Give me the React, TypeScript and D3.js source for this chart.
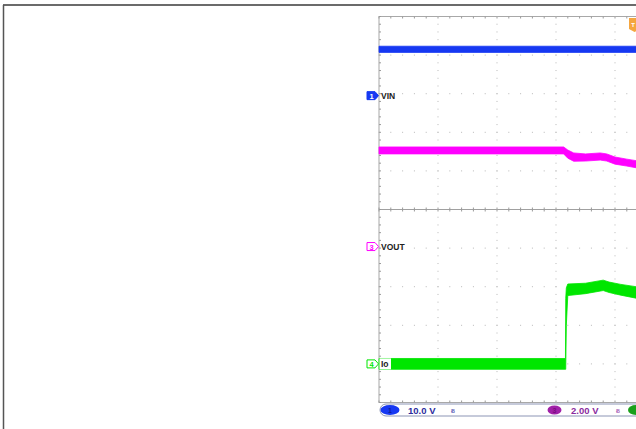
import React from "react";
import * as d3 from "d3";

// ---- data (time in divisions, values in channel units) ----
const vinTime = [0, 1, 2, 3, 4, 4.6];
const vinHigh = [12.8, 12.8, 12.8, 12.8, 12.8, 12.8];
const vinLow = [11.2, 11.2, 11.2, 11.2, 11.2, 11.2];

const voutTime = [0, 1, 2, 3, 3.13, 3.2, 3.3, 3.5, 3.75, 3.86, 4.0, 4.2, 4.4];
const voutHigh = [5.16, 5.16, 5.16, 5.16, 5.16, 5.0, 4.85, 4.8, 4.85, 4.8, 4.64, 4.53, 4.43];
const voutLow = [4.8, 4.8, 4.8, 4.8, 4.8, 4.58, 4.42, 4.43, 4.48, 4.43, 4.27, 4.17, 4.06];

const ioTime = [0, 1, 2, 3, 3.16, 3.165, 3.175, 3.2, 3.5, 3.8, 3.9, 4.1, 4.4];
const ioHigh = [0.14, 0.14, 0.14, 0.14, 0.14, 1.7, 1.97, 2.07, 2.09, 2.17, 2.12, 2.06, 1.99];
const ioLow = [-0.14, -0.14, -0.14, -0.14, -0.14, -0.14, 1.0, 1.77, 1.82, 1.9, 1.85, 1.78, 1.69];

const channelNames = ["VIN", "VOUT", "Io"];
const channelNumbers = ["1", "3", "4"];
const channelOffsets = [2.95, -0.96, -4.0]; // divisions
const channelScales = [10, 2, 1]; // units per division
const channelColors = ["#1638f2", "#ff00ff", "#00e600"];
const scaleLabels = ["10.0 V", "2.00 V"];

const W = 636;
const H = 429;

export default function App() {
  const x = d3.scaleLinear().domain([0, 10]).range([379, 969]);
  const y = d3.scaleLinear().domain([-5, 5]).range([402.5, 16.5]);

  const series = [
    { t: vinTime, hi: vinHigh, lo: vinLow },
    { t: voutTime, hi: voutHigh, lo: voutLow },
    { t: ioTime, hi: ioHigh, lo: ioLow },
  ];

  const areas = series.map((s, ci) => {
    const pts = s.t.map((t, i) => ({ t, hi: s.hi[i], lo: s.lo[i] }));
    const area = d3
      .area<any>()
      .x((d) => x(d.t))
      .y0((d) => y(channelOffsets[ci] + d.lo / channelScales[ci]))
      .y1((d) => y(channelOffsets[ci] + d.hi / channelScales[ci]));
    return area(pts) || "";
  });

  // grid dots
  const dots: JSX.Element[] = [];
  const gridColor = "#b8b8b8";
  for (let gx = 1; gx <= 9; gx++) {
    if (gx === 5) continue;
    for (let k = 0; k <= 50; k++) {
      const yy = y(-5 + k * 0.2);
      dots.push(<rect key={`v${gx}-${k}`} x={x(gx) - 0.5} y={yy - 0.5} width={1} height={1} fill={gridColor} />);
    }
  }
  for (let gy = -4; gy <= 4; gy++) {
    if (gy === 0) continue;
    for (let k = 0; k <= 50; k++) {
      const xx = x(k * 0.2);
      dots.push(<rect key={`h${gy}-${k}`} x={xx - 0.5} y={y(gy) - 0.5} width={1} height={1} fill={gridColor} />);
    }
  }
  // ticks on center line & borders
  const ticks: JSX.Element[] = [];
  for (let k = 0; k <= 50; k++) {
    const xx = x(k * 0.2);
    ticks.push(<line key={`c${k}`} x1={xx} x2={xx} y1={y(0) - 2} y2={y(0) + 2} stroke="#9a9a9a" strokeWidth={1} />);
    ticks.push(<line key={`t${k}`} x1={xx} x2={xx} y1={y(5)} y2={y(5) + 2} stroke="#9a9a9a" strokeWidth={1} />);
    ticks.push(<line key={`b${k}`} x1={xx} x2={xx} y1={y(-5)} y2={y(-5) - 2} stroke="#9a9a9a" strokeWidth={1} />);
  }
  for (let k = 0; k <= 50; k++) {
    const yy = y(-5 + k * 0.2);
    ticks.push(<line key={`l${k}`} x1={x(0)} x2={x(0) + 2} y1={yy} y2={yy} stroke="#9a9a9a" strokeWidth={1} />);
  }

  const markerPath = (cy: number) =>
    `M367,${cy - 4} L375,${cy - 4} L378.5,${cy} L375,${cy + 4} L367,${cy + 4} Z`;

  const font = "Liberation Sans, Arial, sans-serif";

  return (
    <svg width={W} height={H} style={{ position: "absolute", left: 0, top: 0, display: "block" }}>
      <rect x={0} y={0} width={W} height={H} fill="#ffffff" />
      {/* outer frame */}
      <line x1={3} x2={W} y1={5} y2={5} stroke="#3a3a3a" strokeWidth={1.5} />
      <line x1={3.5} x2={3.5} y1={5} y2={H} stroke="#555" strokeWidth={1.5} />

      {/* graticule */}
      <rect x={x(0)} y={y(5)} width={x(10) - x(0)} height={y(-5) - y(5)} fill="none" stroke="#a8a8a8" strokeWidth={1} />
      <line x1={x(0)} x2={x(10)} y1={y(0)} y2={y(0)} stroke="#a0a0a0" strokeWidth={1} />
      {dots}
      {ticks}

      {/* traces */}
      {areas.map((d, i) => (
        <path key={i} d={d} fill={channelColors[i]} stroke={channelColors[i]} strokeWidth={0.8} />
      ))}

      {/* channel markers & labels */}
      {channelNames.map((name, i) => {
        const cy = y(channelOffsets[i]);
        const filled = i === 0;
        return (
          <g key={name}>
            {i === 2 && <rect x={379.5} y={cy - 5.5} width={11.5} height={11} fill="#fff" />}
            <path d={markerPath(cy)} fill={filled ? channelColors[i] : "#fff"} stroke={channelColors[i]} strokeWidth={1} />
            <text x={371.5} y={cy + 3} fontSize={7.5} fontFamily={font} fontWeight="bold" textAnchor="middle" fill={filled ? "#fff" : channelColors[i]}>
              {channelNumbers[i]}
            </text>
            <text x={381} y={cy + 3.2} fontSize={8.5} fontFamily={font} fontWeight="bold" fill="#222">
              {name}
            </text>
          </g>
        );
      })}

      {/* trigger marker */}
      <path d="M629,18 L640,18 L640,29 L634.5,32 L629,29 Z" fill="#f5a640" />
      <text x={633} y={27} fontSize={6} fontFamily={font} fontWeight="bold" textAnchor="middle" fill="#fff">T</text>

      {/* status bar */}
      <rect x={380} y={404} width={300} height={12} rx={6} fill="#fff" stroke="#8c95b5" strokeWidth={1} />
      <ellipse cx={390} cy={410} rx={9.5} ry={5} fill="#1638f2" />
      <text x={390} y={413} fontSize={7} fontFamily={font} fontWeight="bold" textAnchor="middle" fill="#0d1f9a">1</text>
      <text x={408} y={413.5} fontSize={9.5} fontFamily={font} fontWeight="bold" fill="#2b2b9e">{scaleLabels[0]}</text>
      <text x={451} y={413} fontSize={6} fontFamily={font} fill="#4a4ab0">Ƀ</text>
      <ellipse cx={554.5} cy={410} rx={7} ry={4.5} fill="#a020a8" />
      <text x={554.5} y={413} fontSize={7} fontFamily={font} fontWeight="bold" textAnchor="middle" fill="#7a0a80">3</text>
      <text x={571} y={413.5} fontSize={9.5} fontFamily={font} fontWeight="bold" fill="#8a2a9e">{scaleLabels[1]}</text>
      <text x={616} y={413} fontSize={6} fontFamily={font} fill="#9a4ab0">Ƀ</text>
      <ellipse cx={636} cy={410} rx={8} ry={5} fill="#1aa01a" />
    </svg>
  );
}
